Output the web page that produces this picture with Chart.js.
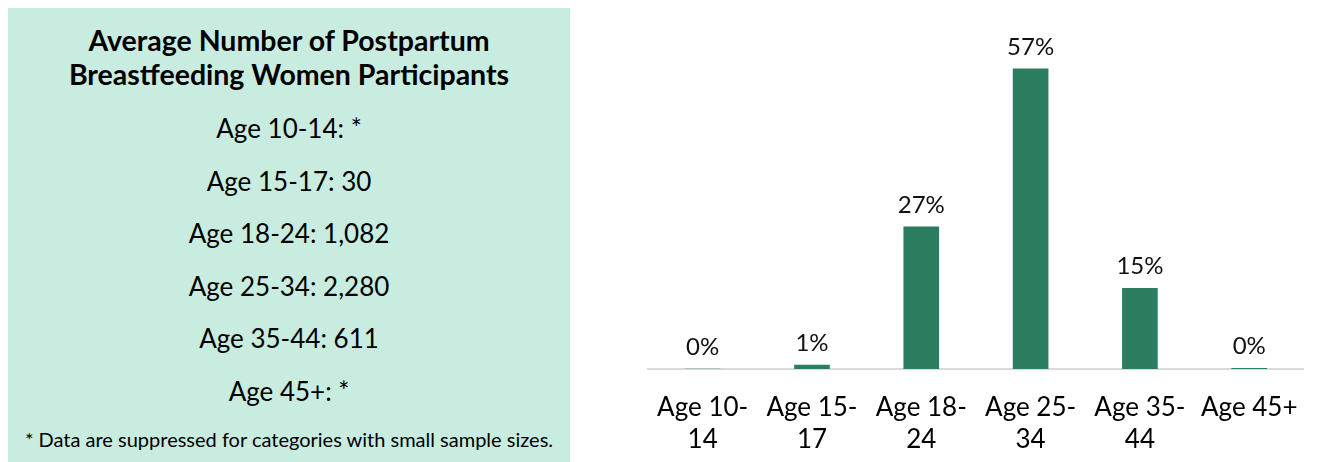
<!DOCTYPE html>
<html>
<head>
<meta charset="utf-8">
<script src="https://cdn.jsdelivr.net/npm/chart.js@4.4.1/dist/chart.umd.min.js"></script>
<style>
  body { margin: 0; background: #fff; font-family: Lato, "Noto Sans", sans-serif; }
  #wrap { position: relative; width: 1321px; height: 462px; overflow: hidden; }
  #panel { position: absolute; left: 8px; top: 8px; width: 562px; height: 454px; background: #c9ece0; color: #000; }
  #panel .t { position: absolute; left: 0; width: 100%; text-align: center; white-space: nowrap; }
  #chartBox { position: absolute; left: 600px; top: 0; width: 721px; height: 462px; }
</style>
</head>
<body>
<div id="wrap">
  <div id="panel"></div>
  <div id="chartBox"><canvas id="myChart"></canvas></div>
</div>
<script>
const titleLines = ['Average Number of Postpartum', 'Breastfeeding Women Participants'];
const countLines = ['Age 10-14: *', 'Age 15-17: 30', 'Age 18-24: 1,082', 'Age 25-34: 2,280', 'Age 35-44: 611', 'Age 45+: *'];
const footnote = '* Data are suppressed for categories with small sample sizes.';

const categories = [['Age 10-', '14'], ['Age 15-', '17'], ['Age 18-', '24'], ['Age 25-', '34'], ['Age 35-', '44'], ['Age 45+']];
const shares = [0, 0.75, 27, 57, 15.3, 0.15];
const shareLabels = ['0%', '1%', '27%', '57%', '15%', '0%'];

// left text panel
const panel = document.getElementById('panel');
function addLine(text, y, size, weight) {
  const d = document.createElement('div');
  d.className = 't';
  d.textContent = text;
  d.style.top = y + 'px';
  d.style.fontSize = size + 'px';
  d.style.fontWeight = weight;
  d.style.lineHeight = '1';
  panel.appendChild(d);
}
for (var i = 0; i < titleLines.length; i++) {
  addLine(titleLines[i], 18 + i * 34, 28.5, 700);
}
for (var j = 0; j < countLines.length; j++) {
  addLine(countLines[j], 107 + j * 52.6, 26, 400);
}
addLine(footnote, 421, 20, 400);

// labels above bars
const barLabels = {
  id: 'barLabels',
  afterDatasetsDraw(chart) {
    const ctx = chart.ctx;
    const meta = chart.getDatasetMeta(0);
    ctx.save();
    ctx.font = '24px Lato, "Noto Sans", sans-serif';
    ctx.fillStyle = '#111';
    ctx.textAlign = 'center';
    ctx.textBaseline = 'bottom';
    meta.data.forEach(function (bar, k) {
      ctx.fillText(shareLabels[k], bar.x, bar.y - 10);
    });
    ctx.restore();
  }
};

const ctx = document.getElementById('myChart');
new Chart(ctx, {
  type: 'bar',
  data: {
    labels: categories,
    datasets: [{
      data: shares,
      backgroundColor: '#2a7d5f',
      barThickness: 35
    }]
  },
  options: {
    responsive: true,
    maintainAspectRatio: false,
    animation: false,
    layout: { padding: { left: 48, right: 6, top: 53, bottom: 0 } },
    plugins: { legend: { display: false }, tooltip: { enabled: false } },
    scales: {
      x: {
        grid: { display: false, drawTicks: false },
        border: { display: true, color: '#d9d9d9', width: 2 },
        ticks: {
          color: '#000',
          padding: 23,
          maxRotation: 0,
          autoSkip: false,
          font: { family: 'Lato, "Noto Sans", sans-serif', size: 26, lineHeight: 1.23 }
        },
        afterFit: function (scale) { scale.height = 93; }
      },
      y: {
        display: false,
        min: 0,
        max: 60
      }
    }
  },
  plugins: [barLabels]
});
</script>
</body>
</html>
